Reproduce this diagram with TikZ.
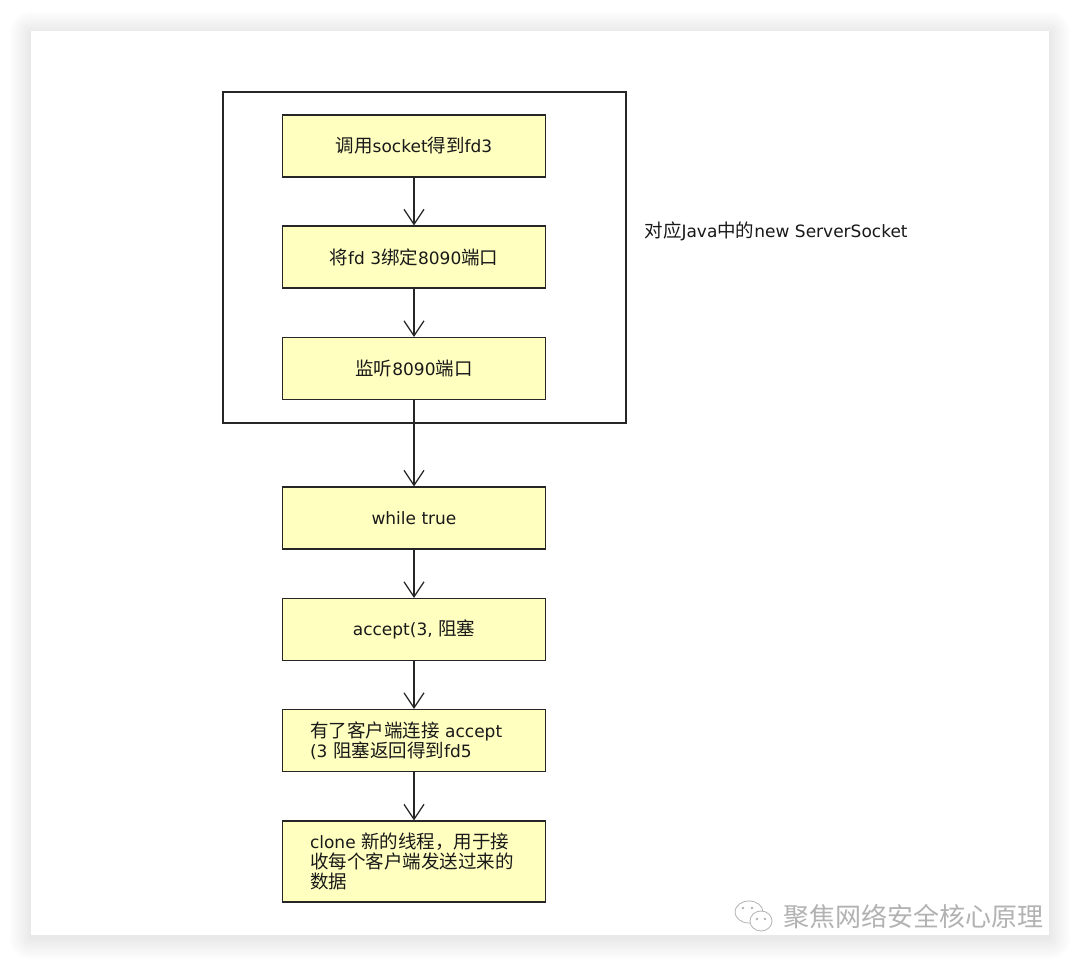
\documentclass[tikz,border=0pt]{standalone}
\usepackage{fontspec}
\setmainfont{DejaVu Sans}
\newfontfamily\cjk{Noto Sans CJK SC}
\usetikzlibrary{arrows.meta}
\definecolor{boxfill}{HTML}{FFFFC0}
\newcommand\zh[1]{{\cjk\fontsize{18.5}{20}\selectfont #1}}
\begin{document}
\begin{tikzpicture}[x=1pt,y=-1pt,
  stepbox/.style={draw=black!85,line width=1.2pt,fill=boxfill,minimum width=263pt,
    minimum height=62pt,inner sep=0pt,font=\fontsize{17}{20}\selectfont,text=black!90},
  longbox/.style={stepbox,text width=208pt,align=left},
  flow/.style={draw=black!85,line width=1.2pt,-{Straight Barb[length=15pt,width=20pt]}}]
\useasboundingbox (0,0) rectangle (1080,966);
% card and its shadow
\foreach \r in {1,...,22}
\fill[black,opacity=0.0035,rounded corners=\r pt] (31-\r,33-\r) rectangle (1049+\r,938+\r);
\fill[white] (31,31) rectangle (1049,935);
% server socket part
\draw[black!85,line width=1.2pt] (223,92) rectangle (626,423);
\node[anchor=west,font=\fontsize{17}{20}\selectfont,text=black!90] (java) at (641,231)
  {\zh{对应}Java\zh{中的}new ServerSocket};
\node[stepbox] (sock) at (414,146) {\zh{调用}socket\zh{得到}fd3};
\node[stepbox] (bind) at (414,257) {\zh{将}fd 3\zh{绑定}8090\zh{端口}};
\node[stepbox] (listen) at (414,368.5) {\zh{监听}8090\zh{端口}};
% loop
\node[stepbox] (loop) at (414,518) {while true};
\node[stepbox] (acc) at (414,629.5) {accept(3, \zh{阻塞}};
\node[longbox] (conn) at (414,740.5) {\zh{有了客户端连接} accept\\(3 \zh{阻塞返回得到}fd5};
\node[longbox,minimum height=81pt] (clone) at (414,861.5)
  {clone \zh{新的线程，用于接}\\\zh{收每个客户端发送过来的}\\\zh{数据}};
\foreach \a/\b in {sock/bind,bind/listen,listen/loop,loop/acc,acc/conn,conn/clone}
\draw[flow] (\a) -- (\b);
% watermark
\draw[black!30,line width=0.8pt,fill=white] (749,912) ellipse (14 and 11);
\draw[black!30,line width=0.8pt,fill=white] (761,921) ellipse (11 and 10);
\foreach \x/\y in {743/908,752/908,757/919,765/919}
\fill[black!30] (\x,\y) circle (1.3);
\node[anchor=west,inner sep=0pt,text=black!30,font=\cjk\fontsize{26}{30}\selectfont] (mark) at (783,917)
  {聚焦网络安全核心原理};
\end{tikzpicture}
\end{document}
